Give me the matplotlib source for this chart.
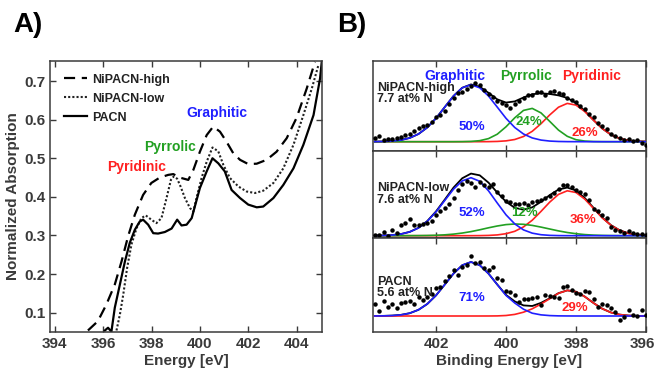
import matplotlib
matplotlib.use('Agg')
import matplotlib.pyplot as plt
from matplotlib.transforms import ScaledTranslation

plt.rcParams['font.family'] = ['Liberation Sans', 'DejaVu Sans']
plt.rcParams['font.weight'] = 'bold'
plt.rcParams['axes.labelweight'] = 'bold'

GRAY = '#3a3a3a'
BLUE = '#1f1fff'
GREEN = '#22a022'
RED = '#ff2020'

# --- A) NEXAFS N K-edge (read off the picture) ---
e_high = [395.37, 395.78, 396.13, 396.48, 396.76, 397.03, 397.31, 397.65, 397.99, 398.34,
          398.69, 398.9, 399.17, 399.52, 399.73, 400.0, 400.28, 400.55, 400.83, 401.1,
          401.38, 401.66, 402.0, 402.35, 402.76, 403.17, 403.59, 404.0, 404.42, 404.76]
a_high = [0.054, 0.078, 0.121, 0.173, 0.233, 0.298, 0.354, 0.405, 0.436, 0.45,
          0.457, 0.459, 0.45, 0.444, 0.47, 0.517, 0.56, 0.582, 0.569, 0.543,
          0.513, 0.496, 0.485, 0.486, 0.496, 0.517, 0.552, 0.605, 0.681, 0.75]

e_low = [396.55, 396.69, 396.83, 396.99, 397.17, 397.38, 397.58, 397.76, 397.99, 398.2,
         398.41, 398.62, 398.8, 398.92, 399.06, 399.2, 399.38, 399.59, 399.73, 399.86,
         400.07, 400.28, 400.52, 400.76, 400.97, 401.24, 401.59, 401.93, 402.28, 402.62,
         403.04, 403.45, 403.87, 404.28, 404.63, 404.9]
a_low = [0.054, 0.095, 0.147, 0.216, 0.277, 0.319, 0.345, 0.352, 0.341, 0.332,
         0.345, 0.397, 0.444, 0.453, 0.447, 0.427, 0.397, 0.371, 0.362, 0.397,
         0.449, 0.491, 0.528, 0.518, 0.483, 0.449, 0.427, 0.414, 0.41, 0.416,
         0.436, 0.474, 0.535, 0.612, 0.681, 0.741]

e_pacn = [396.07, 396.2, 396.34, 396.48, 396.69, 396.9, 397.1, 397.31, 397.51, 397.65,
          397.86, 398.07, 398.27, 398.55, 398.83, 399.06, 399.24, 399.45, 399.66, 399.79,
          400.0, 400.28, 400.52, 400.76, 401.03, 401.31, 401.66, 402.0, 402.35, 402.62,
          403.04, 403.45, 403.87, 404.28, 404.7, 404.97, 405.04]
a_pacn = [0.054, 0.061, 0.051, 0.113, 0.173, 0.233, 0.281, 0.315, 0.336, 0.341,
          0.328, 0.306, 0.305, 0.309, 0.318, 0.341, 0.326, 0.328, 0.345, 0.375,
          0.423, 0.466, 0.5, 0.487, 0.466, 0.418, 0.397, 0.38, 0.373, 0.375,
          0.397, 0.431, 0.474, 0.535, 0.612, 0.707, 0.75]

# --- B) XPS N1s fits (heights in arbitrary units above each baseline) ---
be = [403.75, 403.5, 403.25, 403.0, 402.75, 402.5, 402.25, 402.0, 401.75, 401.5,
      401.25, 401.0, 400.75, 400.5, 400.25, 400.0, 399.75, 399.5, 399.25, 399.0,
      398.75, 398.5, 398.25, 398.0, 397.75, 397.5, 397.25, 397.0, 396.75, 396.5,
      396.25, 396.0]

blue_hi = [0.07, 0.22, 0.63, 1.63, 3.76, 7.7, 14.2, 23.4, 34.6, 45.7, 53.9, 57.0, 53.9, 45.7,
           34.6, 23.4, 14.2, 7.7, 3.76, 1.63, 0.63, 0.22, 0.07, 0.02, 0, 0, 0, 0, 0, 0, 0, 0]
green_hi = [0, 0, 0, 0, 0, 0, 0, 0, 0, 0, 0.06, 0.28, 1.03, 3.1, 7.5, 14.9, 23.9, 31.3, 33.3,
            28.8, 20.3, 11.6, 5.4, 2.0, 0.63, 0.16, 0.03, 0, 0, 0, 0, 0]
red_hi = [0, 0, 0, 0, 0, 0, 0, 0, 0, 0, 0, 0, 0.02, 0.07, 0.27, 0.83, 2.2, 5.2, 10.4, 18.0,
          26.8, 34.5, 38.3, 36.6, 30.2, 21.5, 13.2, 7.0, 3.2, 1.26, 0.43, 0.13]

blue_lo = [0.07, 0.22, 0.64, 1.66, 3.8, 7.8, 14.4, 23.8, 35.2, 46.5, 54.8, 58.0, 54.4, 44.9,
           32.7, 20.9, 11.8, 5.8, 2.55, 0.98, 0.33, 0.1, 0.03, 0, 0, 0, 0, 0, 0, 0, 0, 0]
green_lo = [0, 0, 0.01, 0.01, 0.04, 0.09, 0.21, 0.45, 0.87, 1.58, 2.65, 4.1, 5.9, 7.9, 9.7,
            11.1, 11.7, 11.4, 10.3, 8.6, 6.7, 4.8, 3.2, 2.0, 1.12, 0.59, 0.29, 0.13, 0.05,
            0.02, 0.01, 0]
red_lo = [0, 0, 0, 0, 0, 0, 0, 0, 0, 0, 0, 0.02, 0.08, 0.27, 0.78, 2.0, 4.4, 8.8, 15.5, 24.3,
          33.6, 41.3, 44.9, 43.2, 36.6, 27.3, 17.9, 10.4, 5.3, 2.4, 0.93, 0.32]

blue_pa = [0.04, 0.13, 0.41, 1.14, 2.8, 6.2, 12.0, 20.6, 31.4, 42.4, 50.8, 54.0, 50.8, 42.4,
           31.4, 20.6, 13.0, 6.8, 2.8, 1.14, 0.41, 0.13, 0.04, 0.01, 0, 0, 0, 0, 0, 0, 0, 0]
red_pa = [0, 0, 0, 0, 0, 0, 0, 0, 0, 0, 0, 0, 0, 0.02, 0.1, 0.5, 1.6, 3.8, 7.2, 12.0,
          17.3, 22.7, 25.6, 24.3, 19.4, 13.0, 7.3, 3.5, 1.39, 0.46, 0.13, 0.03]

be_pts = [403.75, 403.625, 403.5, 403.375, 403.25, 403.125, 403.0, 402.875, 402.75, 402.625,
          402.5, 402.375, 402.25, 402.125, 402.0, 401.875, 401.75, 401.625, 401.5, 401.375,
          401.25, 401.125, 401.0, 400.875, 400.75, 400.625, 400.5, 400.375, 400.25, 400.125,
          400.0, 399.875, 399.75, 399.625, 399.5, 399.375, 399.25, 399.125, 399.0, 398.875,
          398.75, 398.625, 398.5, 398.375, 398.25, 398.125, 398.0, 397.875, 397.75, 397.625,
          397.5, 397.375, 397.25, 397.125, 397.0, 396.875, 396.75, 396.625, 396.5, 396.375,
          396.25, 396.125, 396.0]
pts_hi = [4.0, 5.5, 2.0, 3.0, 2.5, 3.5, 5.0, 6.5, 8.0, 10.5,
          14.0, 15.5, 17.0, 19.5, 24.5, 27.0, 31.0, 38.0, 44.0, 48.5,
          50.0, 53.0, 56.0, 58.5, 57.0, 52.0, 47.5, 45.0, 41.0, 38.5,
          37.0, 34.0, 37.5, 41.0, 44.0, 46.5, 47.0, 49.5, 50.0, 47.0,
          49.5, 50.5, 49.0, 47.5, 44.0, 42.0, 39.5, 36.0, 32.5, 28.0,
          24.5, 19.0, 15.5, 12.5, 7.5, 5.5, 4.0, 2.0, 3.0, 0.5,
          1.5, -1.0, -3.0]
pts_lo = [1.0, 0.5, 4.0, 0.0, 5.5, 3.0, 10.5, 12.5, 17.0, 10.5,
          11.0, 11.5, 13.0, 15.0, 20.5, 24.5, 27.5, 32.0, 38.0, 46.0,
          51.5, 55.0, 52.5, 49.0, 54.0, 50.5, 48.5, 52.0, 44.0, 40.0,
          35.0, 33.5, 32.0, 31.5, 32.5, 31.0, 34.0, 34.5, 36.0, 38.0,
          39.5, 43.0, 47.0, 50.5, 51.0, 49.0, 45.5, 43.5, 42.0, 36.0,
          27.0, 25.0, 21.0, 17.5, 9.0, 6.0, 4.5, 3.0, 4.5, 2.5,
          2.0, 1.5, 0.5]
pts_pa = [12.0, 5.5, 15.5, 9.0, 12.0, 8.5, 13.0, 14.0, 15.5, 12.5,
          19.0, 16.5, 19.0, 22.0, 28.5, 29.0, 35.0, 40.0, 46.0, 41.0,
          49.0, 51.0, 60.5, 53.0, 54.0, 48.5, 46.0, 49.0, 38.0, 36.0,
          25.0, 24.0, 21.0, 14.5, 17.5, 17.0, 18.5, 19.5, 11.0, 21.0,
          20.5, 19.0, 18.0, 29.5, 30.0, 26.0, 23.0, 22.5, 25.0, 24.0,
          17.0, 9.0, 12.5, 11.0, 8.0, 4.5, -4.0, -1.0, 6.0, 1.0,
          0.5, 6.0, 1.0]

W, H = 657, 374
fig = plt.figure(figsize=(W / 100, H / 100), dpi=100)


def box(l, t, r, b):
    return [l / W, 1 - b / H, (r - l) / W, (b - t) / H]


def style(ax):
    for s in ax.spines.values():
        s.set_color(GRAY)
        s.set_linewidth(1.1)
    ax.tick_params(direction='in', top=True, right=True, length=4, width=1,
                   colors=GRAY, labelsize=11, labelcolor=GRAY)


# ---------------- panel A ----------------
axA = fig.add_axes(box(50, 61, 322, 332))
axA.plot(e_high, a_high, color='black', lw=1.6, ls=(0, (5, 3)), label='NiPACN-high')
axA.plot(e_low, a_low, color='#222222', lw=1.5, ls=(0, (1, 1)), label='NiPACN-low')
axA.plot(e_pacn, a_pacn, color='black', lw=1.6, label='PACN')
axA.set_xlim(393.8, 405.05)
axA.set_ylim(0.05, 0.752)
axA.set_xticks([394, 396, 398, 400, 402, 404])
axA.set_yticks([0.1, 0.2, 0.3, 0.4, 0.5, 0.6, 0.7])
axA.set_yticklabels(['0.1', '0.2', '0.3', '0.4', '0.5', '0.6', '0.7'])
style(axA)
axA.set_xlabel('Energy [eV]', fontsize=11, color=GRAY, labelpad=2)
axA.set_ylabel('Normalized Absorption', fontsize=11, color=GRAY, labelpad=3)
leg = axA.legend(loc='upper left', bbox_to_anchor=(0.02, 0.985), frameon=False,
                 fontsize=9, handlelength=1.8, handletextpad=0.4, labelspacing=0.55,
                 borderaxespad=0.3)
for t in leg.get_texts():
    t.set_color('#222222')
axA.text(400.7, 0.617, 'Graphitic', color=BLUE, fontsize=10, ha='center', va='center')
axA.text(398.76, 0.529, 'Pyrrolic', color=GREEN, fontsize=10, ha='center', va='center')
axA.text(397.39, 0.478, 'Pyridinic', color=RED, fontsize=10, ha='center', va='center')

# ---------------- panel B ----------------
axes_b = [fig.add_axes(box(373, 61, 646, 151)),
          fig.add_axes(box(373, 151, 646, 238)),
          fig.add_axes(box(373, 238, 646, 332))]
ylims = [(-9.3, 80.7), (-2.3, 84.7), (-16, 78)]
comps = [[(red_hi, RED), (green_hi, GREEN), (blue_hi, BLUE)],
         [(red_lo, RED), (green_lo, GREEN), (blue_lo, BLUE)],
         [(red_pa, RED), (blue_pa, BLUE)]]
pts = [pts_hi, pts_lo, pts_pa]
names = ['NiPACN-high\n7.7 at% N', 'NiPACN-low\n7.6 at% N', 'PACN\n5.6 at% N']
name_y = [48.2, 41.5, 28.5]

for ax, lim, cc, p, nm, ny in zip(axes_b, ylims, comps, pts, names, name_y):
    total = [sum(v) for v in zip(*[c[0] for c in cc])]
    ax.plot(be, total, color='black', lw=1.3, zorder=2)
    for vals, col in cc:
        ax.plot(be, vals, color=col, lw=1.2, zorder=3)
    ax.plot(be_pts, p, ls='none', marker='o', ms=2.2, color='black', zorder=4)
    ax.set_xlim(403.8, 396)
    ax.set_ylim(*lim)
    ax.set_xticks([402, 400, 398, 396])
    ax.set_yticks([])
    style(ax)
    ax.text(403.69, ny, nm, fontsize=9, color='#222222', ha='left', va='center',
            linespacing=0.95, zorder=5)

for ax in axes_b[:2]:
    ax.tick_params(labelbottom=False)

a1, a2, a3 = axes_b
a1.text(401.46, 65.7, 'Graphitic', color=BLUE, fontsize=10, ha='center', va='center')
a1.text(399.43, 65.7, 'Pyrrolic', color=GREEN, fontsize=10, ha='center', va='center')
a1.text(397.55, 65.7, 'Pyridinic', color=RED, fontsize=10, ha='center', va='center')
a1.text(400.98, 15, '50%', color=BLUE, fontsize=9.5, ha='center', va='center', zorder=6)
a1.text(399.34, 20, '24%', color=GREEN, fontsize=9.5, ha='center', va='center', zorder=6)
a1.text(397.74, 9, '26%', color=RED, fontsize=9.5, ha='center', va='center', zorder=6)
a2.text(400.98, 22.4, '52%', color=BLUE, fontsize=9.5, ha='center', va='center', zorder=6)
a2.text(399.48, 22.4, '12%', color=GREEN, fontsize=9.5, ha='center', va='center', zorder=6)
a2.text(397.79, 15.7, '36%', color=RED, fontsize=9.5, ha='center', va='center', zorder=6)
a3.text(400.98, 17.7, '71%', color=BLUE, fontsize=9.5, ha='center', va='center', zorder=6)
a3.text(398.03, 7.7, '29%', color=RED, fontsize=9.5, ha='center', va='center', zorder=6)
a3.set_xlabel('Binding Energy [eV]', fontsize=11, color=GRAY, labelpad=2)

# keep the last tick label ("396") inside the figure edge
fig.canvas.draw()
last = a3.get_xticklabels()[-1]
last.set_transform(last.get_transform() + ScaledTranslation(-4 / 100, 0, fig.dpi_scale_trans))

fig.text(28 / W, 1 - 25 / H, 'A)', fontsize=20, color='black', ha='center', va='center')
fig.text(352 / W, 1 - 25 / H, 'B)', fontsize=20, color='black', ha='center', va='center')

fig.savefig('out.png', dpi=100)
